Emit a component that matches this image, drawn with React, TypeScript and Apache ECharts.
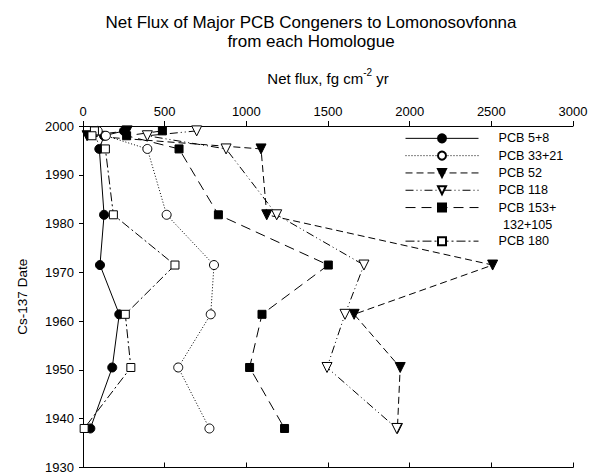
import React, { useEffect, useRef } from "react";
import * as echarts from "echarts";

const FONT = "'Liberation Sans', Arial, sans-serif";

const years = [1999, 1998, 1995.3, 1981.8, 1971.5, 1961.4, 1950.5, 1938];
const xTicks = [0, 500, 1000, 1500, 2000, 2500, 3000];

const pcb5_8 = [251, 129, 100, 129, 104, 222, 179, 45];
const pcb33_21 = [90, 140, 394, 512, 802, 782, 583, 774];
const pcb52 = [270, 25, 1090, 1125, 2508, 1660, 1942, 1925];
const pcb118 = [696, 394, 876, 1186, 1720, 1604, 1494, 1921];
const pcb153 = [486, 267, 588, 829, 1502, 1096, 1020, 1234];
const pcb180 = [70, 55, 137, 186, 563, 259, 293, 7];

const seriesNames = ["PCB 5+8", "PCB 33+21", "PCB 52", "PCB 118", "PCB 153+", "PCB 180"];

function pairs(vals: number[]) {
  return vals.map((v, i) => [v, years[i]]);
}

export default function App() {
  const ref = useRef<HTMLDivElement>(null);
  useEffect(() => {
    document.body.style.margin = "0";
    if (!ref.current) return;
    const chart = echarts.init(ref.current, undefined, { renderer: "svg" });
    const open = { color: "#fff", borderColor: "#000", borderWidth: 1 };
    const filled = { color: "#000", borderColor: "#000", borderWidth: 1 };
    const mk = (
      name: string,
      vals: number[],
      symbol: string,
      size: number,
      item: any,
      dash: any,
      rotate = 0
    ) => ({
      name,
      type: "line",
      data: pairs(vals),
      symbol,
      symbolSize: size,
      symbolRotate: rotate,
      showAllSymbol: true,
      itemStyle: item,
      lineStyle: { color: "#000", width: 1, type: dash },
      xAxisIndex: 0,
      yAxisIndex: 0,
      z: 3,
    });
    const legendCommon = {
      orient: "vertical",
      left: 405,
      itemWidth: 73,
      itemHeight: 10,
      itemGap: 0,
      padding: 0,
      selectedMode: false,
      lineStyle: { width: 1 },
      textStyle: {
        fontFamily: FONT,
        fontSize: 12.6,
        color: "#000",
        lineHeight: 17.3,
        padding: [0, 0, 0, 15],
      },
    };
    chart.setOption({
      animation: false,
      backgroundColor: "#fff",
      grid: { left: 83, right: 20, top: 126, bottom: 2 },
      legend: [
        { ...legendCommon, top: 129.7, data: seriesNames.slice(0, 5) },
        { ...legendCommon, top: 232.5, data: [seriesNames[5]] },
      ],
      graphic: [
        {
          type: "text",
          x: 311,
          y: 13,
          style: {
            text: "Net Flux of Major PCB Congeners to Lomonosovfonna\nfrom each Homologue",
            fontFamily: FONT,
            fontSize: 17,
            lineHeight: 19,
            fill: "#000",
            align: "center",
            verticalAlign: "top",
          },
        },
        {
          type: "text",
          x: 328,
          y: 67,
          style: {
            text: "{n|Net flux, fg cm}{s|-2}{n| yr}",
            fontFamily: FONT,
            fill: "#000",
            align: "center",
            verticalAlign: "top",
            rich: {
              n: { fontFamily: FONT, fontSize: 15, lineHeight: 19, verticalAlign: "bottom", fill: "#000" },
              s: { fontFamily: FONT, fontSize: 10, lineHeight: 11, verticalAlign: "top", fill: "#000" },
            },
          },
        },
        {
          type: "text",
          x: 503,
          y: 225,
          style: {
            text: "132+105",
            fontFamily: FONT,
            fontSize: 12.6,
            fill: "#000",
            align: "left",
            verticalAlign: "middle",
          },
        },
      ],
      xAxis: [
        {
          type: "value",
          position: "top",
          min: 0,
          max: 3000,
          interval: 500,
          axisLine: { show: true, lineStyle: { color: "#000", width: 1 } },
          axisTick: { show: true, inside: false, length: 5, lineStyle: { color: "#000" } },
          axisLabel: {
            fontFamily: FONT,
            fontSize: 13,
            color: "#000",
            margin: 8,
            showMinLabel: true,
            showMaxLabel: true,
            formatter: (v: number) => (xTicks.includes(v) ? String(v) : ""),
          },
          splitLine: { show: false },
        },
        {
          type: "value",
          position: "bottom",
          min: 0,
          max: 3000,
          interval: 500,
          axisLine: { show: true, lineStyle: { color: "#000", width: 1 } },
          axisTick: { show: true, inside: true, length: 5, lineStyle: { color: "#000" } },
          axisLabel: { show: false },
          splitLine: { show: false },
        },
      ],
      yAxis: [
        {
          type: "value",
          position: "left",
          min: 1930,
          max: 2000,
          interval: 10,
          name: "Cs-137 Date",
          nameLocation: "middle",
          nameGap: 54,
          nameTextStyle: { fontFamily: FONT, fontSize: 13.5, color: "#000" },
          axisLine: { show: true, lineStyle: { color: "#000", width: 1 } },
          axisTick: { show: true, inside: false, length: 4, lineStyle: { color: "#000" } },
          axisLabel: {
            fontFamily: FONT,
            fontSize: 13,
            color: "#000",
            margin: 9,
            formatter: (v: number) => String(v),
          },
          splitLine: { show: false },
        },
        {
          type: "value",
          position: "right",
          min: 1930,
          max: 2000,
          interval: 10,
          axisLine: { show: true, lineStyle: { color: "#000", width: 1 } },
          axisTick: { show: false },
          axisLabel: { show: false },
          splitLine: { show: false },
        },
      ],
      series: [
        mk(seriesNames[0], pcb5_8, "circle", 9, filled, "solid"),
        mk(seriesNames[1], pcb33_21, "circle", 9, open, [1, 2]),
        mk(seriesNames[2], pcb52, "triangle", 10, filled, [7, 4], 180),
        mk(seriesNames[3], pcb118, "triangle", 10, open, [8, 3, 1, 3, 1, 3], 180),
        mk(seriesNames[4], pcb153, "rect", 8, filled, [10, 6]),
        mk(seriesNames[5], pcb180, "rect", 8, open, [9, 3, 2, 3]),
      ],
    });
    return () => chart.dispose();
  }, []);
  return <div ref={ref} style={{ width: 593, height: 474 }} />;
}
